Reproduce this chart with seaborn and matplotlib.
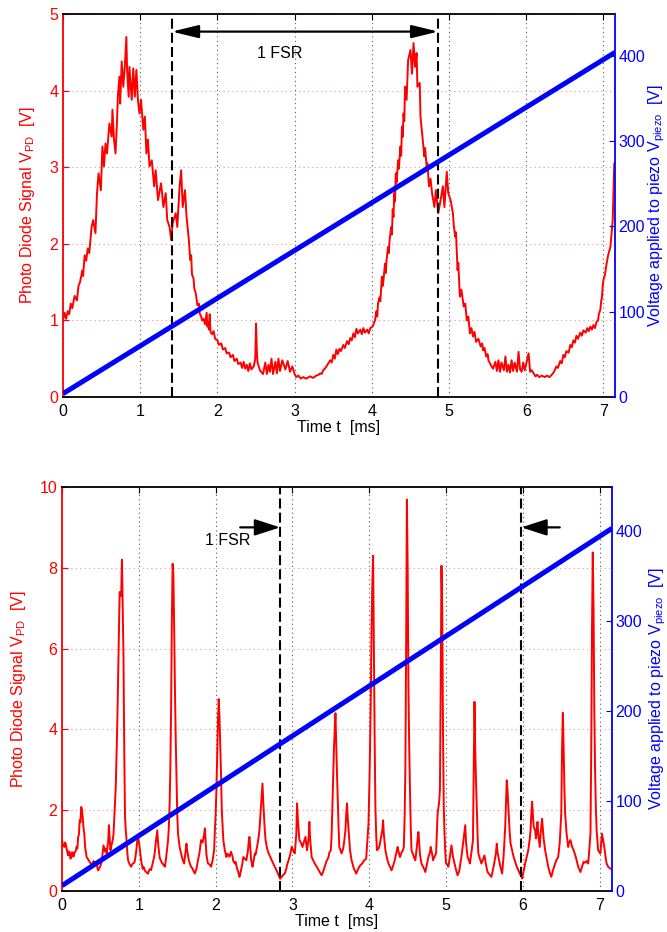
import matplotlib
matplotlib.use("Agg")
import matplotlib.pyplot as plt
import pandas as pd
import seaborn as sns

# ---- photodiode traces (time in ms, signal in V) ----
top_trace = [
    (0.00, 1.00), (0.02, 1.10), (0.04, 1.02), (0.06, 1.12), (0.08, 1.08), (0.10, 1.22),
    (0.12, 1.16), (0.15, 1.32), (0.18, 1.26), (0.20, 1.45), (0.22, 1.50), (0.25, 1.65),
    (0.26, 1.58), (0.28, 1.85), (0.30, 1.78), (0.32, 1.94), (0.34, 1.88), (0.37, 2.22),
    (0.39, 2.31), (0.42, 2.14), (0.44, 2.66), (0.46, 2.92), (0.49, 2.70), (0.51, 3.27),
    (0.53, 3.01), (0.55, 3.31), (0.57, 3.18), (0.60, 3.57), (0.63, 3.40), (0.64, 3.75),
    (0.66, 3.36), (0.68, 3.18), (0.70, 3.62), (0.71, 3.92), (0.73, 4.18), (0.74, 3.83),
    (0.76, 4.38), (0.78, 4.05), (0.80, 4.31), (0.82, 4.70), (0.83, 4.27), (0.85, 3.92),
    (0.86, 4.31), (0.89, 3.88), (0.91, 4.29), (0.93, 3.92), (0.95, 4.27), (0.97, 3.88),
    (0.99, 3.70), (1.01, 3.88), (1.04, 3.49), (1.06, 3.66), (1.08, 3.18), (1.10, 3.36),
    (1.12, 3.01), (1.15, 3.09), (1.18, 2.75), (1.20, 2.96), (1.23, 2.57), (1.27, 2.79),
    (1.30, 2.48), (1.33, 2.66), (1.35, 2.31), (1.38, 2.22), (1.40, 2.05), (1.42, 2.27),
    (1.46, 2.40), (1.48, 2.22), (1.51, 2.75), (1.53, 2.96), (1.55, 2.48), (1.58, 2.70),
    (1.60, 2.35), (1.63, 2.05), (1.64, 1.90), (1.65, 1.79), (1.66, 1.85), (1.67, 1.60),
    (1.69, 1.55), (1.70, 1.42), (1.72, 1.35), (1.74, 1.20), (1.76, 1.22), (1.77, 1.09),
    (1.79, 1.05), (1.80, 1.00), (1.82, 1.02), (1.84, 0.95), (1.86, 1.10), (1.87, 0.92),
    (1.88, 0.98), (1.89, 0.88), (1.90, 1.08), (1.91, 0.85), (1.93, 0.82), (1.95, 0.86),
    (1.97, 0.76), (2.00, 0.74), (2.02, 0.68), (2.05, 0.70), (2.07, 0.62), (2.10, 0.64),
    (2.12, 0.57), (2.15, 0.58), (2.17, 0.52), (2.20, 0.55), (2.22, 0.47), (2.25, 0.50),
    (2.27, 0.43), (2.30, 0.45), (2.32, 0.38), (2.34, 0.46), (2.36, 0.37), (2.38, 0.42),
    (2.40, 0.34), (2.42, 0.44), (2.44, 0.36), (2.47, 0.40), (2.49, 0.50), (2.50, 0.96),
    (2.51, 0.60), (2.52, 0.45), (2.55, 0.35), (2.59, 0.30), (2.62, 0.45), (2.64, 0.30),
    (2.66, 0.42), (2.68, 0.33), (2.70, 0.50), (2.72, 0.30), (2.75, 0.46), (2.77, 0.31),
    (2.79, 0.50), (2.81, 0.34), (2.84, 0.48), (2.88, 0.36), (2.91, 0.47), (2.94, 0.33),
    (2.97, 0.40), (3.00, 0.30), (3.02, 0.26), (3.05, 0.28), (3.08, 0.24), (3.11, 0.26),
    (3.15, 0.24), (3.20, 0.27), (3.24, 0.25), (3.28, 0.28), (3.31, 0.29), (3.33, 0.31),
    (3.35, 0.30), (3.37, 0.35), (3.40, 0.38), (3.43, 0.43), (3.46, 0.48), (3.48, 0.45),
    (3.50, 0.55), (3.52, 0.50), (3.54, 0.62), (3.56, 0.56), (3.58, 0.63), (3.60, 0.60),
    (3.63, 0.68), (3.65, 0.64), (3.68, 0.73), (3.70, 0.69), (3.72, 0.77), (3.74, 0.74),
    (3.76, 0.83), (3.78, 0.78), (3.80, 0.89), (3.82, 0.83), (3.85, 0.88), (3.87, 0.82),
    (3.89, 0.90), (3.91, 0.84), (3.94, 0.88), (3.96, 0.83), (3.98, 0.90), (4.01, 0.92),
    (4.04, 1.00), (4.06, 1.12), (4.07, 1.05), (4.08, 1.22), (4.10, 1.30), (4.11, 1.25),
    (4.13, 1.57), (4.14, 1.45), (4.15, 1.52), (4.17, 1.74), (4.18, 1.62), (4.19, 1.78),
    (4.21, 1.96), (4.22, 1.88), (4.23, 2.05), (4.25, 2.22), (4.26, 2.12), (4.27, 2.45),
    (4.28, 2.35), (4.29, 2.66), (4.30, 2.55), (4.31, 2.92), (4.32, 2.80), (4.34, 3.09),
    (4.35, 2.98), (4.37, 3.27), (4.38, 3.15), (4.39, 3.53), (4.40, 3.40), (4.41, 3.70),
    (4.42, 3.60), (4.43, 4.05), (4.45, 3.88), (4.47, 4.40), (4.50, 4.53), (4.52, 4.22),
    (4.54, 4.62), (4.56, 4.31), (4.58, 4.49), (4.59, 4.05), (4.62, 4.10), (4.63, 3.66),
    (4.65, 3.45), (4.66, 3.35), (4.68, 3.14), (4.69, 3.25), (4.71, 3.00), (4.72, 3.05),
    (4.74, 2.75), (4.76, 2.85), (4.78, 2.66), (4.81, 2.48), (4.83, 2.70), (4.86, 2.40),
    (4.89, 2.57), (4.92, 2.75), (4.94, 2.48), (4.97, 2.94), (4.99, 2.66), (5.02, 2.57),
    (5.05, 2.40), (5.06, 2.25), (5.08, 2.09), (5.09, 2.15), (5.11, 1.66), (5.12, 1.75),
    (5.14, 1.31), (5.16, 1.40), (5.19, 1.18), (5.21, 1.22), (5.23, 1.00), (5.25, 1.05),
    (5.27, 0.83), (5.29, 0.90), (5.31, 0.79), (5.33, 0.85), (5.35, 0.72), (5.38, 0.76),
    (5.41, 0.66), (5.43, 0.70), (5.44, 0.61), (5.46, 0.64), (5.48, 0.53), (5.50, 0.56),
    (5.51, 0.48), (5.54, 0.42), (5.57, 0.37), (5.60, 0.46), (5.62, 0.34), (5.64, 0.48),
    (5.66, 0.33), (5.68, 0.45), (5.71, 0.35), (5.73, 0.53), (5.75, 0.33), (5.77, 0.42),
    (5.79, 0.32), (5.81, 0.48), (5.83, 0.34), (5.85, 0.45), (5.88, 0.33), (5.90, 0.59),
    (5.92, 0.36), (5.94, 0.33), (5.96, 0.45), (5.98, 0.35), (6.01, 0.48), (6.03, 0.57),
    (6.05, 0.33), (6.07, 0.35), (6.10, 0.30), (6.12, 0.27), (6.14, 0.29), (6.17, 0.26),
    (6.20, 0.28), (6.24, 0.26), (6.27, 0.28), (6.30, 0.26), (6.33, 0.29), (6.36, 0.33),
    (6.39, 0.40), (6.41, 0.38), (6.44, 0.47), (6.46, 0.44), (6.48, 0.55), (6.50, 0.52),
    (6.52, 0.60), (6.55, 0.58), (6.57, 0.68), (6.59, 0.65), (6.61, 0.74), (6.63, 0.71),
    (6.65, 0.80), (6.67, 0.76), (6.70, 0.84), (6.72, 0.80), (6.74, 0.87), (6.77, 0.84),
    (6.79, 0.90), (6.81, 0.86), (6.83, 0.92), (6.85, 0.88), (6.87, 0.94), (6.89, 0.90),
    (6.91, 0.98), (6.93, 1.00), (6.94, 1.08), (6.96, 1.14), (6.97, 1.25), (6.98, 1.30),
    (6.99, 1.45), (7.00, 1.53), (7.02, 1.60), (7.04, 1.74), (7.06, 1.85), (7.09, 1.96),
    (7.11, 2.20), (7.12, 2.31), (7.14, 3.05),
]

bottom_trace = [
    (0.00, 1.26), (0.01, 1.15), (0.03, 1.09), (0.04, 1.20), (0.05, 1.15), (0.07, 0.95),
    (0.08, 0.88), (0.09, 0.98), (0.10, 0.95), (0.11, 0.80), (0.12, 0.84), (0.13, 0.96),
    (0.14, 0.95), (0.15, 0.85), (0.16, 0.93), (0.18, 1.00), (0.19, 1.10), (0.20, 1.05),
    (0.21, 1.34), (0.22, 1.40), (0.23, 1.75), (0.24, 1.70), (0.25, 2.08), (0.26, 2.00),
    (0.27, 1.80), (0.28, 1.55), (0.29, 1.42), (0.30, 1.10), (0.32, 0.84), (0.34, 0.78),
    (0.36, 0.72), (0.38, 0.66), (0.40, 0.68), (0.41, 0.74), (0.43, 0.64), (0.44, 0.66),
    (0.45, 0.70), (0.46, 0.58), (0.47, 0.51), (0.49, 0.58), (0.51, 0.68), (0.52, 0.80),
    (0.54, 1.13), (0.55, 1.05), (0.56, 0.98), (0.57, 1.05), (0.58, 0.93), (0.60, 1.20),
    (0.61, 1.63), (0.62, 1.30), (0.63, 1.01), (0.64, 1.10), (0.66, 1.26), (0.67, 1.40),
    (0.69, 2.17), (0.70, 2.60), (0.71, 3.40), (0.72, 4.20), (0.73, 5.30), (0.74, 6.50),
    (0.75, 7.40), (0.76, 7.40), (0.77, 7.30), (0.78, 8.20), (0.79, 7.00), (0.80, 5.80),
    (0.81, 3.50), (0.82, 1.83), (0.83, 1.50), (0.84, 1.26), (0.85, 0.95), (0.86, 0.76),
    (0.88, 0.66), (0.90, 0.60), (0.92, 0.68), (0.94, 0.70), (0.95, 0.76), (0.97, 1.05),
    (0.98, 1.26), (0.99, 1.35), (1.01, 1.09), (1.03, 0.75), (1.05, 0.55), (1.06, 0.60),
    (1.08, 0.50), (1.10, 0.46), (1.12, 0.43), (1.13, 0.50), (1.15, 0.55), (1.16, 0.52),
    (1.18, 0.68), (1.20, 0.85), (1.21, 1.00), (1.22, 1.20), (1.24, 1.50), (1.25, 1.20),
    (1.27, 0.84), (1.28, 0.78), (1.30, 0.70), (1.32, 0.65), (1.34, 0.60), (1.36, 0.90),
    (1.38, 1.26), (1.39, 1.55), (1.40, 2.10), (1.41, 3.00), (1.42, 4.50), (1.43, 6.70),
    (1.44, 8.10), (1.45, 7.80), (1.46, 6.50), (1.47, 5.00), (1.48, 3.80), (1.49, 2.80),
    (1.50, 1.90), (1.51, 1.42), (1.53, 1.10), (1.55, 0.93), (1.57, 0.78), (1.59, 0.68),
    (1.60, 0.85), (1.62, 1.17), (1.63, 1.00), (1.65, 0.76), (1.66, 0.70), (1.68, 0.60),
    (1.70, 0.55), (1.71, 0.50), (1.73, 0.43), (1.75, 0.55), (1.77, 0.76), (1.79, 0.95),
    (1.81, 1.26), (1.83, 1.20), (1.85, 1.40), (1.86, 1.55), (1.87, 1.20), (1.88, 0.90),
    (1.89, 0.78), (1.90, 0.68), (1.92, 0.66), (1.94, 0.60), (1.96, 0.75), (1.98, 1.01),
    (1.99, 1.50), (2.00, 1.90), (2.01, 2.50), (2.02, 3.30), (2.03, 4.20), (2.04, 4.75),
    (2.05, 4.30), (2.06, 3.60), (2.07, 2.90), (2.08, 2.00), (2.10, 1.26), (2.12, 1.00),
    (2.14, 0.84), (2.15, 0.92), (2.17, 0.90), (2.18, 0.85), (2.20, 0.97), (2.22, 0.85),
    (2.23, 0.74), (2.25, 0.68), (2.26, 0.72), (2.28, 0.55), (2.29, 0.50), (2.31, 0.35),
    (2.32, 0.42), (2.33, 0.51), (2.35, 0.70), (2.36, 0.84), (2.38, 0.80), (2.40, 0.76),
    (2.42, 1.00), (2.43, 1.20), (2.44, 1.34), (2.45, 1.10), (2.46, 0.80), (2.48, 0.60),
    (2.49, 0.70), (2.51, 0.93), (2.52, 0.90), (2.54, 1.10), (2.56, 1.34), (2.57, 1.50),
    (2.59, 2.08), (2.60, 2.40), (2.61, 2.66), (2.62, 2.20), (2.63, 1.83), (2.64, 1.50),
    (2.65, 1.26), (2.67, 1.05), (2.69, 0.93), (2.71, 0.85), (2.73, 0.76), (2.75, 0.68),
    (2.77, 0.60), (2.79, 0.52), (2.80, 0.48), (2.82, 0.39), (2.84, 0.30), (2.86, 0.35),
    (2.88, 0.40), (2.90, 0.43), (2.92, 0.55), (2.93, 0.65), (2.95, 0.76), (2.97, 0.90),
    (2.99, 1.09), (3.01, 1.00), (3.03, 0.93), (3.05, 1.40), (3.06, 2.17), (3.07, 1.80),
    (3.09, 1.26), (3.11, 1.20), (3.13, 1.09), (3.15, 1.22), (3.17, 1.34), (3.18, 1.15),
    (3.19, 1.01), (3.21, 1.30), (3.22, 1.71), (3.23, 1.30), (3.25, 0.84), (3.27, 0.76),
    (3.29, 0.68), (3.31, 0.62), (3.33, 0.55), (3.34, 0.51), (3.36, 0.45), (3.38, 0.39),
    (3.40, 0.48), (3.42, 0.60), (3.44, 0.72), (3.47, 0.84), (3.48, 0.95), (3.50, 1.01),
    (3.51, 1.40), (3.52, 2.08), (3.53, 2.80), (3.54, 3.50), (3.55, 4.00), (3.56, 4.40),
    (3.57, 3.60), (3.58, 2.90), (3.59, 2.25), (3.60, 1.60), (3.61, 1.09), (3.63, 0.98),
    (3.64, 0.93), (3.66, 1.05), (3.67, 1.17), (3.69, 1.50), (3.70, 1.90), (3.71, 2.17),
    (3.72, 1.80), (3.74, 1.26), (3.75, 1.00), (3.77, 0.76), (3.79, 0.62), (3.80, 0.55),
    (3.82, 0.48), (3.83, 0.43), (3.85, 0.52), (3.87, 0.60), (3.89, 0.65), (3.91, 0.68),
    (3.93, 0.75), (3.96, 0.80), (3.97, 1.10), (3.99, 1.67), (4.00, 2.50), (4.01, 3.50),
    (4.02, 4.80), (4.03, 6.50), (4.04, 7.60), (4.05, 8.30), (4.06, 6.00), (4.07, 3.80),
    (4.08, 2.08), (4.09, 1.40), (4.10, 1.01), (4.12, 1.05), (4.13, 1.09), (4.15, 1.30),
    (4.17, 1.50), (4.18, 1.75), (4.19, 1.40), (4.21, 1.01), (4.23, 0.82), (4.25, 0.68),
    (4.27, 0.60), (4.29, 0.51), (4.31, 0.62), (4.33, 0.75), (4.34, 0.84), (4.36, 1.00),
    (4.37, 1.09), (4.38, 0.98), (4.40, 0.84), (4.42, 0.95), (4.44, 1.02), (4.45, 1.09),
    (4.46, 1.80), (4.47, 3.00), (4.48, 6.00), (4.49, 9.69), (4.50, 8.00), (4.51, 5.00),
    (4.52, 3.60), (4.53, 2.50), (4.54, 1.60), (4.55, 1.01), (4.57, 0.90), (4.59, 0.80),
    (4.60, 0.76), (4.62, 1.10), (4.63, 1.30), (4.64, 1.46), (4.65, 1.20), (4.66, 0.90),
    (4.68, 0.68), (4.70, 0.60), (4.72, 0.52), (4.73, 0.47), (4.75, 0.65), (4.77, 0.84),
    (4.79, 0.95), (4.80, 1.09), (4.82, 0.90), (4.83, 0.76), (4.85, 0.85), (4.87, 0.93),
    (4.88, 1.40), (4.89, 1.92), (4.91, 2.20), (4.92, 2.50), (4.93, 5.00), (4.94, 8.05),
    (4.95, 7.00), (4.96, 4.00), (4.97, 2.08), (4.98, 1.40), (4.99, 0.95), (5.00, 0.68),
    (5.02, 0.65), (5.03, 0.60), (5.05, 0.85), (5.07, 1.13), (5.09, 0.85), (5.11, 0.68),
    (5.13, 0.52), (5.15, 0.39), (5.17, 0.48), (5.18, 0.60), (5.20, 0.85), (5.22, 1.17),
    (5.23, 1.35), (5.25, 1.63), (5.26, 1.20), (5.28, 0.84), (5.30, 0.75), (5.31, 0.68),
    (5.33, 0.95), (5.35, 1.26), (5.36, 3.00), (5.37, 4.68), (5.38, 3.50), (5.39, 2.70),
    (5.40, 2.08), (5.41, 1.40), (5.42, 0.93), (5.44, 0.80), (5.46, 0.68), (5.48, 0.78),
    (5.50, 0.88), (5.52, 0.65), (5.54, 0.47), (5.56, 0.42), (5.59, 0.35), (5.61, 0.52),
    (5.63, 0.72), (5.65, 0.95), (5.66, 1.17), (5.67, 0.95), (5.69, 0.76), (5.71, 0.58),
    (5.73, 0.43), (5.75, 0.90), (5.77, 1.59), (5.78, 2.20), (5.79, 2.74), (5.80, 2.50),
    (5.81, 2.10), (5.82, 1.75), (5.83, 1.40), (5.84, 1.17), (5.86, 1.00), (5.88, 0.84),
    (5.90, 0.72), (5.92, 0.60), (5.94, 0.52), (5.96, 0.43), (5.98, 0.36), (5.99, 0.31),
    (6.01, 0.50), (6.03, 0.68), (6.05, 0.85), (6.07, 1.01), (6.09, 1.30), (6.10, 1.50),
    (6.11, 1.90), (6.12, 2.21), (6.13, 1.90), (6.14, 1.60), (6.16, 1.50), (6.17, 1.30),
    (6.19, 1.71), (6.20, 1.40), (6.22, 1.09), (6.23, 1.40), (6.25, 1.79), (6.27, 1.30),
    (6.29, 1.01), (6.31, 0.80), (6.33, 0.60), (6.35, 0.45), (6.37, 0.35), (6.39, 0.50),
    (6.42, 0.68), (6.44, 0.78), (6.46, 0.84), (6.48, 1.20), (6.50, 1.92), (6.51, 3.50),
    (6.52, 4.41), (6.53, 3.60), (6.54, 2.60), (6.55, 1.92), (6.57, 1.40), (6.59, 1.09),
    (6.60, 1.20), (6.62, 1.26), (6.64, 1.10), (6.66, 1.01), (6.68, 0.90), (6.70, 0.76),
    (6.72, 0.60), (6.75, 0.47), (6.77, 0.60), (6.79, 0.72), (6.81, 0.70), (6.83, 0.74),
    (6.85, 0.68), (6.86, 0.90), (6.88, 1.42), (6.89, 3.50), (6.90, 6.50), (6.91, 8.38),
    (6.92, 7.00), (6.93, 4.50), (6.94, 3.00), (6.95, 2.08), (6.96, 1.50), (6.98, 1.01),
    (7.00, 0.95), (7.01, 0.93), (7.02, 1.20), (7.03, 1.42), (7.05, 1.20), (7.06, 1.09),
    (7.08, 0.80), (7.09, 0.68), (7.11, 0.60), (7.14, 0.55),
]

# ---- piezo ramp (time in ms, voltage in V) ----
top_piezo_t = [0.0, 7.15]
top_piezo_v = [4.0, 404.0]
bottom_piezo_t = [0.0, 7.16]
bottom_piezo_v = [6.0, 403.0]

# ---- free spectral range markers ----
top_fsr = [1.41, 4.86]
bottom_fsr = [2.84, 5.98]

time_ticks = [0, 1, 2, 3, 4, 5, 6, 7]
piezo_ticks = [0, 100, 200, 300, 400]
top_pd_ticks = [0, 1, 2, 3, 4, 5]
bottom_pd_ticks = [0, 2, 4, 6, 8, 10]

RED = "#ff0000"
BLUE = "#0000ff"
FS = 11.5

sns.set_theme(style="white")
plt.rcParams["font.family"] = ["Liberation Sans", "DejaVu Sans"]
plt.rcParams["mathtext.fontset"] = "custom"
plt.rcParams["mathtext.rm"] = "Liberation Sans"
plt.rcParams["mathtext.it"] = "Liberation Sans"
plt.rcParams["mathtext.default"] = "regular"

fig = plt.figure(figsize=(6.67, 9.32), dpi=100)
ax_top = fig.add_axes([0.0945, 0.574, 0.8276, 0.411])
ax_bot = fig.add_axes([0.093, 0.044, 0.8245, 0.4335])


def draw_panel(ax, trace, piezo_t, piezo_v, xmax, ymax, pd_ticks, fsr, left_lab_x, right_lab_x):
    df = pd.DataFrame(trace, columns=["t", "v"])
    ax.grid(axis="x", color="0.35", ls=(0, (1, 3)), lw=0.8)
    ax.grid(axis="y", color=RED, ls=(0, (1, 3)), lw=0.8, alpha=0.45)
    sns.lineplot(data=df, x="t", y="v", ax=ax, color=RED, lw=1.4,
                 estimator=None, sort=False, zorder=3)
    for x in fsr:
        ax.axvline(x, color="black", ls=(0, (4.8, 2)), lw=1.5, zorder=4)
    ax.set_xlim(0, xmax)
    ax.set_ylim(0, ymax)
    ax.set_xticks(time_ticks)
    ax.set_yticks(pd_ticks)
    ax.tick_params(axis="x", direction="in", length=4, width=0.8, top=True,
                   colors="black", labelsize=FS, pad=5)
    ax.tick_params(axis="y", direction="in", length=4, width=0.8, right=True,
                   colors=RED, labelsize=FS, pad=3.5)
    ax.set_xlabel("Time t  [ms]", fontsize=FS, color="black", labelpad=1)
    ax.set_ylabel("Photo Diode Signal V$_{PD}$  [V]", fontsize=FS, color=RED)
    ax.yaxis.set_label_coords(left_lab_x, 0.5)
    for side in ("top", "bottom"):
        ax.spines[side].set_color("black")
        ax.spines[side].set_linewidth(1.3)
    ax.spines["left"].set_color(RED)
    ax.spines["left"].set_linewidth(1.3)
    ax.spines["right"].set_visible(False)

    ax2 = ax.twinx()
    pz = pd.DataFrame({"t": piezo_t, "u": piezo_v})
    sns.lineplot(data=pz, x="t", y="u", ax=ax2, color=BLUE, lw=3.6,
                 estimator=None, sort=False, solid_capstyle="butt")
    ax2.set_ylim(0, 449)
    ax2.set_xlim(0, xmax)
    ax2.set_yticks(piezo_ticks)
    ax2.tick_params(axis="y", direction="in", length=4, width=0.8, colors=BLUE,
                    labelsize=FS, pad=2.5)
    ax2.set_ylabel("Voltage applied to piezo V$_{piezo}$  [V]", fontsize=FS, color=BLUE)
    ax2.yaxis.set_label_coords(right_lab_x, 0.5)
    for side in ("top", "bottom", "left"):
        ax2.spines[side].set_visible(False)
    ax2.spines["right"].set_color(BLUE)
    ax2.spines["right"].set_linewidth(1.3)
    ax2.grid(False)
    return ax2


ax2_top = draw_panel(ax_top, top_trace, top_piezo_t, top_piezo_v, 7.15, 5,
                     top_pd_ticks, top_fsr, -0.047, 1.057)
ax2_bot = draw_panel(ax_bot, bottom_trace, bottom_piezo_t, bottom_piezo_v, 7.16, 10,
                     bottom_pd_ticks, bottom_fsr, -0.062, 1.065)

# FSR annotations
ax_top.annotate("", xy=(top_fsr[1], 4.77), xytext=(top_fsr[0], 4.77),
                arrowprops=dict(arrowstyle="<|-|>,head_length=1.35,head_width=0.33",
                                color="black", lw=1.6, shrinkA=0, shrinkB=0), zorder=6)
ax_top.text(2.80, 4.49, "1 FSR", ha="center", va="center", fontsize=FS, color="black", zorder=6)

ax_bot.annotate("", xy=(bottom_fsr[0], 9.0), xytext=(2.32, 9.0),
                arrowprops=dict(arrowstyle="-|>,head_length=1.3,head_width=0.42",
                                color="black", lw=1.6, shrinkA=0, shrinkB=0), zorder=6)
ax_bot.annotate("", xy=(bottom_fsr[1], 9.0), xytext=(6.48, 9.0),
                arrowprops=dict(arrowstyle="-|>,head_length=1.3,head_width=0.42",
                                color="black", lw=1.6, shrinkA=0, shrinkB=0), zorder=6)
ax_bot.text(2.16, 8.67, "1 FSR", ha="center", va="center", fontsize=FS, color="black", zorder=6)

fig.savefig("out.png", dpi=100)
